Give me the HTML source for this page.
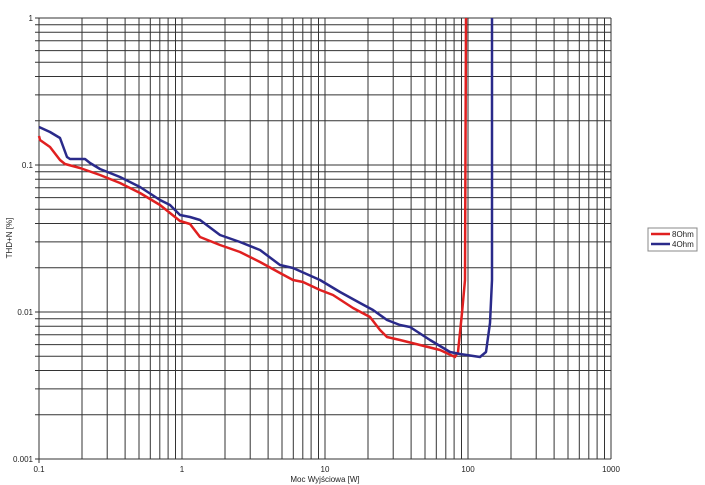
<!DOCTYPE html><html><head><style>body{margin:0;background:#fff}svg{display:block}text{font-family:"Liberation Sans",sans-serif;font-size:8px;fill:#222}</style></head><body>
<svg width="705" height="485" viewBox="0 0 705 485" xmlns="http://www.w3.org/2000/svg">
<g id="grid" stroke="#333" stroke-width="1"></g>
<text x="33" y="21" text-anchor="end">1</text>
<text x="33" y="168" text-anchor="end">0.1</text>
<text x="33" y="315" text-anchor="end">0.01</text>
<text x="33" y="462" text-anchor="end">0.001</text>
<text x="39" y="472" text-anchor="middle">0.1</text>
<text x="182" y="472" text-anchor="middle">1</text>
<text x="325" y="472" text-anchor="middle">10</text>
<text x="468" y="472" text-anchor="middle">100</text>
<text x="611" y="472" text-anchor="middle">1000</text>
<text x="325" y="482" text-anchor="middle">Moc Wyjściowa [W]</text>
<text transform="translate(12,238) rotate(-90)" text-anchor="middle">THD+N [%]</text>
<polyline fill="none" stroke="#e02020" stroke-width="2.5" stroke-linejoin="round" points="39,136 40,140 50,147 60,160 65,164 80,168 100,175 120,183 140,193 160,205 180,221 190,224 200,237 220,245 240,252 260,262 280,273 293,280 303,282 320,290 333,295 353,308 370,317 380,330 387,337 400,340 420,345 440,350 455,357 458,352 462,313 465,280 466,18"/>
<polyline fill="none" stroke="#2a2a8a" stroke-width="2.5" stroke-linejoin="round" points="39,127 50,132 60,138 67,157 70,159 85,159 90,163 100,169 120,177 140,187 160,200 170,205 180,215 190,217 200,220 220,235 240,242 260,250 280,265 293,268 320,280 340,292 360,303 373,310 387,320 400,325 410,327 430,340 450,352 460,354 480,357 486,352 490,323 492,280 492,18"/>
<rect x="648" y="228" width="49" height="23" fill="#fff" stroke="#888"/>
<line x1="651" y1="234" x2="670" y2="234" stroke="#e02020" stroke-width="2.5"/>
<line x1="651" y1="244" x2="670" y2="244" stroke="#2a2a8a" stroke-width="2.5"/>
<text x="672" y="237">8Ohm</text>
<text x="672" y="247">4Ohm</text>
</svg>
<script>
var g=document.getElementById('grid'),s='';
var x0=39,xd=143,y0=459,yd=147;
for(var d=0;d<4;d++)for(var m=1;m<10;m++){var x=x0+xd*(d+Math.log10(m));s+='<line x1="'+x.toFixed(1)+'" y1="18" x2="'+x.toFixed(1)+'" y2="459"/>';}
s+='<line x1="611" y1="18" x2="611" y2="459"/>';
for(var d=0;d<3;d++)for(var m=1;m<10;m++){var y=y0-yd*(d+Math.log10(m));s+='<line x1="35" y1="'+y.toFixed(1)+'" x2="611" y2="'+y.toFixed(1)+'"/>';}
s+='<line x1="35" y1="18" x2="611" y2="18"/><line x1="39" y1="459" x2="39" y2="463"/>';
g.innerHTML=s;
</script>
</body></html>
